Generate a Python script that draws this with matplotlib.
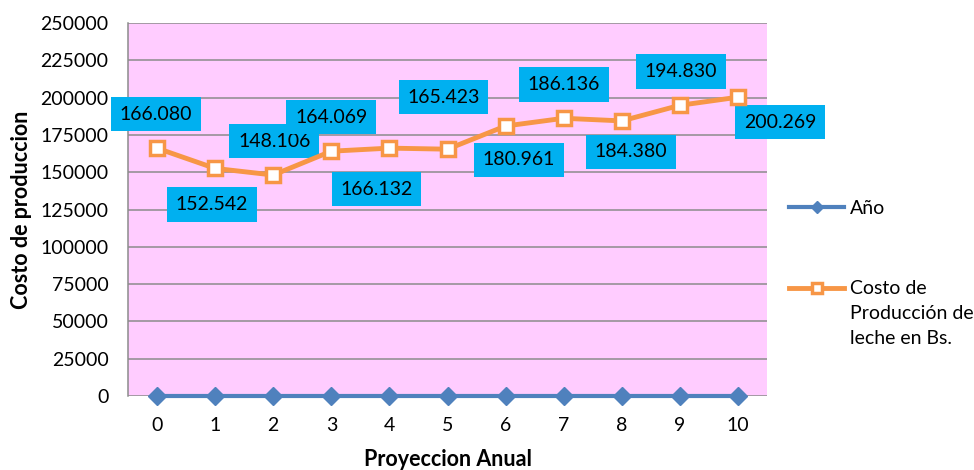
import numpy as np
import matplotlib
matplotlib.use("Agg")
import matplotlib.pyplot as plt

plt.rcParams['font.family'] = ['Lato', 'DejaVu Sans']

# data
anios = [0, 1, 2, 3, 4, 5, 6, 7, 8, 9, 10]
serie_anio = [0, 0, 0, 0, 0, 0, 0, 0, 0, 0, 0]
costo = [166080, 152542, 148106, 164069, 166132, 165423,
         180961, 186136, 184380, 194830, 200269]
etiquetas = ["166.080", "152.542", "148.106", "164.069", "166.132", "165.423",
             "180.961", "186.136", "184.380", "194.830", "200.269"]
yticks = list(range(0, 250001, 25000))

# label box offsets (pixels, from point)
offsets = [(-1, 34), (-3, -36), (1, 34), (0, 34), (-13, -41), (-4, 52),
           (13, -34), (0, 34), (9, -31), (1, 34), (42, -25)]

AZUL = '#4F81BD'
NARANJA = '#F79646'
ROSA = '#FFCCFF'
CELESTE = '#00B0F0'
GRIS = '#8C8C8C'

fig = plt.figure(figsize=(9.74, 4.70), dpi=100)
ax = fig.add_subplot(111)
fig.subplots_adjust(left=0.1314, right=0.7875, bottom=0.1574, top=0.9511)

ax.set_facecolor(ROSA)
ax.set_xlim(-0.5, 10.5)
ax.set_ylim(0, 250000)
ax.set_yticks(yticks)
ax.set_xticks(anios)
ax.grid(axis='y', color=GRIS, linewidth=1.1)
ax.set_axisbelow(True)
for s in ['top', 'right', 'bottom']:
    ax.spines[s].set_visible(False)
ax.spines['left'].set_color(GRIS)
ax.spines['left'].set_linewidth(1.1)
ax.tick_params(axis='y', length=0, pad=14, labelsize=14)
ax.tick_params(axis='x', length=0, pad=15, labelsize=14)

l1, = ax.plot(anios, serie_anio, color=AZUL, linewidth=3, marker='D',
              markersize=9, clip_on=False, zorder=3, label='Año')
l2, = ax.plot(anios, costo, color=NARANJA, linewidth=3.5, marker='s',
              markersize=10.5, markerfacecolor='white', markeredgecolor=NARANJA,
              markeredgewidth=2.5, zorder=4, label='Costo de')

for x, v, t, (dx, dy) in zip(anios, costo, etiquetas, offsets):
    ax.annotate(t, xy=(x, v), xytext=(dx, dy), textcoords='offset pixels',
                ha='center', va='center', fontsize=14, zorder=3,
                bbox=dict(boxstyle='square,pad=0.45', fc=CELESTE, ec='none'))

ax.set_ylabel('Costo de produccion', fontsize=15.5, fontweight='bold', labelpad=6)
ax.set_xlabel('Proyeccion Anual', fontsize=15.5, fontweight='bold', labelpad=11)

leg = fig.legend(handles=[l1, l2], loc='upper left', bbox_to_anchor=(0.810, 0.574),
                 frameon=False, fontsize=14, handlelength=2.85, handletextpad=0.3,
                 labelspacing=3.25, borderpad=0, borderaxespad=0, markerscale=0.7)
fig.canvas.draw()
bb = leg.get_texts()[1].get_window_extent()
inv = fig.transFigure.inverted()
x0, y0 = inv.transform((bb.x0, bb.y0))
fig.text(x0, y0 - 0.016, 'Producción de\nleche en Bs.', fontsize=14,
         ha='left', va='top', linespacing=1.55)

fig.savefig('out.png', dpi=100)
